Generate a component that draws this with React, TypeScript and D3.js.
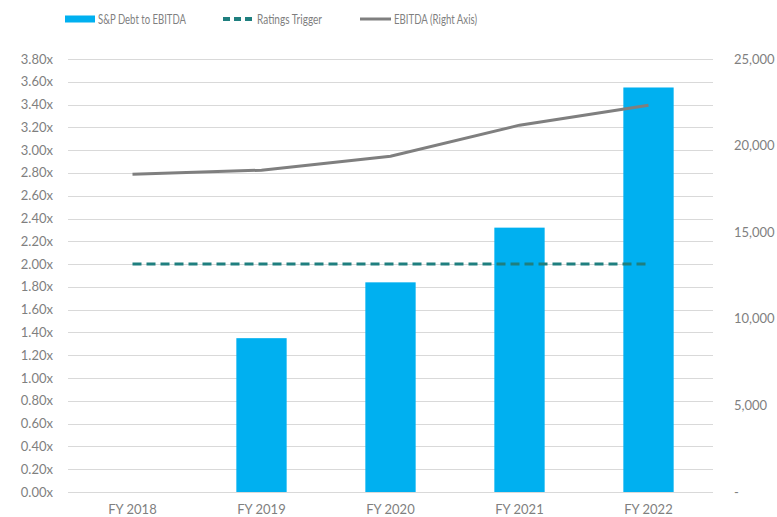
import React, { useEffect, useRef } from 'react';
import * as d3 from 'd3';

const categories = ['FY 2018', 'FY 2019', 'FY 2020', 'FY 2021', 'FY 2022'];
// null = no bar
const debtToEbitda: (number | null)[] = [null, 1.35, 1.84, 2.32, 3.55];
const ratingsTrigger = [2.0, 2.0, 2.0, 2.0, 2.0];
const ebitda = [18350, 18580, 19390, 21180, 22330];
const leftTicks = d3.range(0, 3.81, 0.2);
const rightTicks = [0, 5000, 10000, 15000, 20000, 25000];

const FONT = 'Lato, "Open Sans", sans-serif';

const App = () => {
  const svgRef = useRef<SVGSVGElement | null>(null);

  useEffect(() => {
    if (!svgRef.current) return;
    d3.select(svgRef.current).selectAll('*').remove();

    const width = 777;
    const height = 517;
    const margin = { top: 59, right: 64, bottom: 25, left: 68 };
    const chartWidth = width - margin.left - margin.right;
    const chartHeight = height - margin.top - margin.bottom;

    const svg = d3.select(svgRef.current)
      .attr('width', width)
      .attr('height', height)
      .style('font-family', FONT);

    const x = d3.scaleBand().domain(categories).range([0, chartWidth]).padding(0);
    const y = d3.scaleLinear().domain([0, 3.8]).range([chartHeight, 0]);
    const y2 = d3.scaleLinear().domain([0, 25000]).range([chartHeight, 0]);

    const g = svg.append('g').attr('transform', `translate(${margin.left},${margin.top})`);

    // gridlines
    g.selectAll('.grid')
      .data(leftTicks)
      .enter()
      .append('line')
      .attr('x1', 0)
      .attr('x2', chartWidth)
      .attr('y1', d => Math.round(y(d)) + 0.5)
      .attr('y2', d => Math.round(y(d)) + 0.5)
      .attr('stroke', '#d9d9d9')
      .attr('stroke-width', 1);

    // left axis labels
    g.selectAll('.ltick')
      .data(leftTicks)
      .enter()
      .append('text')
      .attr('x', -15)
      .attr('y', d => y(d))
      .attr('dy', '0.35em')
      .attr('text-anchor', 'end')
      .attr('font-size', 13)
      .attr('fill', '#7f7f7f')
      .text(d => d.toFixed(2) + 'x');

    // right axis labels
    g.selectAll('.rtick')
      .data(rightTicks)
      .enter()
      .append('text')
      .attr('x', chartWidth + 21)
      .attr('y', d => y2(d))
      .attr('dy', '0.35em')
      .attr('font-size', 13)
      .attr('fill', '#7f7f7f')
      .text(d => (d === 0 ? '-' : d3.format(',')(d)));

    // bars
    const barW = x.bandwidth() * 0.39;
    g.selectAll('.bar')
      .data(categories.map((c, i) => ({ c, v: debtToEbitda[i] })).filter(d => d.v !== null))
      .enter()
      .append('rect')
      .attr('x', d => (x(d.c) as number) + x.bandwidth() / 2 - barW / 2)
      .attr('width', barW)
      .attr('y', d => y(d.v as number))
      .attr('height', d => chartHeight - y(d.v as number))
      .attr('fill', '#00b0f0');

    const cx = (c: string) => (x(c) as number) + x.bandwidth() / 2;

    // ratings trigger
    g.append('path')
      .datum(ratingsTrigger)
      .attr('d', d3.line<number>().x((_, i) => cx(categories[i])).y(d => y(d)))
      .attr('fill', 'none')
      .attr('stroke', '#1f7f7f')
      .attr('stroke-width', 3)
      .attr('stroke-dasharray', '9,5');

    // EBITDA line
    g.append('path')
      .datum(ebitda)
      .attr('d', d3.line<number>().x((_, i) => cx(categories[i])).y(d => y2(d)))
      .attr('fill', 'none')
      .attr('stroke', '#7f7f7f')
      .attr('stroke-width', 3);

    // category labels
    g.selectAll('.cat')
      .data(categories)
      .enter()
      .append('text')
      .attr('x', d => cx(d))
      .attr('y', chartHeight + 22)
      .attr('text-anchor', 'middle')
      .attr('font-size', 13)
      .attr('fill', '#7f7f7f')
      .text(d => d);

    // legend (text squeezed to match the narrow original font)
    const lg = svg.append('g').attr('transform', 'translate(0,19)');
    const legendText = (xPos: number, len: number, label: string) =>
      lg.append('text').attr('x', xPos).attr('y', 0).attr('dy', '0.35em')
        .attr('font-size', 13).attr('fill', '#7f7f7f')
        .attr('textLength', len).attr('lengthAdjust', 'spacingAndGlyphs')
        .text(label);
    lg.append('rect').attr('x', 65).attr('y', -3.5).attr('width', 30).attr('height', 7).attr('fill', '#00b0f0');
    legendText(98, 88, 'S&P Debt to EBITDA');
    lg.append('line').attr('x1', 223).attr('x2', 252).attr('y1', 0).attr('y2', 0)
      .attr('stroke', '#1f7f7f').attr('stroke-width', 4).attr('stroke-dasharray', '7,4');
    legendText(257, 65, 'Ratings Trigger');
    lg.append('line').attr('x1', 360).attr('x2', 391).attr('y1', 0).attr('y2', 0)
      .attr('stroke', '#7f7f7f').attr('stroke-width', 3);
    legendText(394, 83, 'EBITDA (Right Axis)');
  }, []);

  return (
    <svg ref={svgRef} style={{ position: 'absolute', left: 0, top: 0, background: '#fff' }}></svg>
  );
};

export default App;
